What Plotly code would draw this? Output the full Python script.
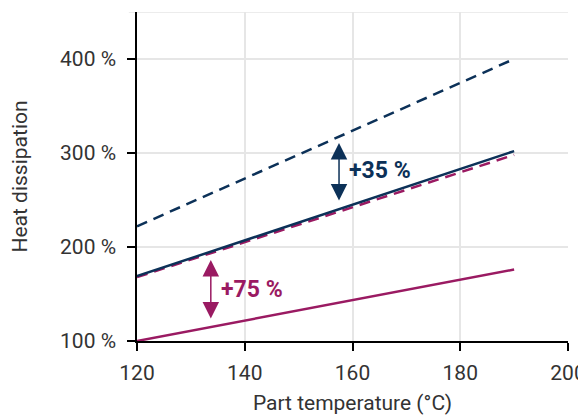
import plotly.graph_objects as go

temperature = [120, 190]
navy_dashed = [222, 400]
navy_solid = [169, 302]
magenta_dashed = [168, 298]
magenta_solid = [100, 176]

x_ticks = [120, 140, 160, 180, 200]
y_ticks = [100, 200, 300, 400]
y_tick_labels = ["100 %", "200 %", "300 %", "400 %"]

NAVY = "#0c3158"
MAGENTA = "#9a1a62"
TEXT = "#333333"
GRID = "#e6e6e6"
FONT = "Roboto"

fig = go.Figure()
fig.add_trace(go.Scatter(x=temperature, y=magenta_solid, mode="lines",
                         line=dict(color=MAGENTA, width=2.5)))
fig.add_trace(go.Scatter(x=temperature, y=navy_dashed, mode="lines",
                         line=dict(color=NAVY, width=2.5, dash="11px,7px")))
fig.add_trace(go.Scatter(x=temperature, y=magenta_dashed, mode="lines",
                         line=dict(color=MAGENTA, width=2.5, dash="11px,7px")))
fig.add_trace(go.Scatter(x=temperature, y=navy_solid, mode="lines",
                         line=dict(color=NAVY, width=2.5)))

# double-headed arrows
arrows = [
    (157.5, 248.0, 310.6, NAVY),
    (133.7, 122.3, 186.2, MAGENTA),
]
for ax_x, y0, y1, col in arrows:
    fig.add_annotation(x=ax_x, y=y1, ax=ax_x, ay=y0, xref="x", yref="y",
                       axref="x", ayref="y", showarrow=True, text="",
                       arrowhead=2, startarrowhead=2, arrowside="end+start",
                       arrowsize=2.2, startarrowsize=2.2, arrowwidth=1.5,
                       arrowcolor=col, standoff=0, startstandoff=0)

fig.add_annotation(x=165.1, y=281, text="+35 %", showarrow=False,
                   font=dict(family=FONT, size=23, color=NAVY, weight=700))
fig.add_annotation(x=141.3, y=154.3, text="+75 %", showarrow=False,
                   font=dict(family=FONT, size=23, color=MAGENTA, weight=700))

# top boundary line
fig.add_shape(type="line", xref="paper", yref="y", x0=-0.019, x1=1, y0=450, y1=450,
              line=dict(color=GRID, width=1.5), layer="below")

# page body adds an 8px offset, so the figure is sized to fit the 586x419 window
fig.update_layout(
    width=578, height=411,
    margin=dict(l=129, r=18, t=4, b=78),
    paper_bgcolor="white", plot_bgcolor="white",
    showlegend=False,
    font=dict(family=FONT, size=21, color=TEXT),
)
fig.update_xaxes(range=[120, 200], tickvals=x_ticks, ticktext=[str(v) for v in x_ticks],
                 showgrid=True, gridcolor=GRID, gridwidth=1.5,
                 showline=True, linecolor="black", linewidth=1.5,
                 ticks="outside", ticklen=8, tickwidth=1.5, tickcolor="black",
                 zeroline=False, ticklabelstandoff=4, automargin=False,
                 title=dict(text="Part temperature (°C)", standoff=11,
                            font=dict(family=FONT, size=21, color=TEXT)))
fig.update_yaxes(range=[100, 450], tickvals=y_ticks, ticktext=y_tick_labels,
                 showgrid=True, gridcolor=GRID, gridwidth=1.5,
                 showline=True, linecolor="black", linewidth=1.5,
                 ticks="outside", ticklen=8, tickwidth=1.5, tickcolor="black",
                 zeroline=False, ticklabelstandoff=7, automargin=False,
                 title=dict(text="Heat dissipation", standoff=28,
                            font=dict(family=FONT, size=21, color=TEXT)))

fig.write_html("out.html")
